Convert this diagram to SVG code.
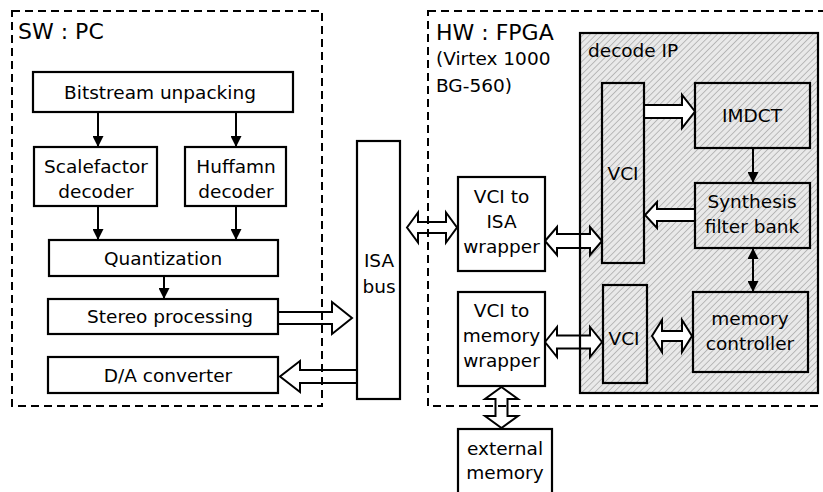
<svg xmlns="http://www.w3.org/2000/svg" width="823" height="492" viewBox="0 0 823 492">
  <defs>
    <pattern id="hatch" patternUnits="userSpaceOnUse" width="4.5" height="4.5" patternTransform="rotate(45)">
      <rect width="4.5" height="4.5" fill="#e9e9e9"/>
      <line x1="0" y1="0" x2="0" y2="4.5" stroke="#8a8a8a" stroke-width="1"/>
    </pattern>
    <marker id="tri" viewBox="0 0 10 10" refX="10" refY="5" markerWidth="5.5" markerHeight="5.5" orient="auto-start-reverse" markerUnits="strokeWidth">
      <path d="M0,0 L10,5 L0,10 Z" fill="#000"/>
    </marker>
    <style>
      text { font-family: "DejaVu Sans", Verdana, sans-serif; font-size: 18.5px; fill: #000; }
      .c { text-anchor: middle; }
      .title { font-size: 22px; }
      .box { fill: #fff; stroke: #000; stroke-width: 2.2; }
      .clear { fill: none; stroke: #000; stroke-width: 2.2; }
      .dash { fill: none; stroke: #000; stroke-width: 2; stroke-dasharray: 8 5; }
      .thin { stroke: #000; stroke-width: 2; fill: none; marker-end: url(#tri); }
      .both { marker-start: url(#tri); }
      .hollow { fill: #fff; stroke: #000; stroke-width: 2; stroke-linejoin: miter; }
    </style>
  </defs>

  <rect width="823" height="492" fill="#fff"/>

  <!-- software side -->
  <g id="sw-region">
    <rect class="dash" x="12" y="11" width="310" height="395"/>
    <text class="title" x="18" y="39">SW : PC</text>
  </g>

  <!-- hardware side -->
  <g id="hw-region">
    <rect class="dash" x="428" y="11" width="420" height="395"/>
    <text class="title" x="436" y="40">HW : FPGA</text>
    <text x="436" y="65">(Virtex 1000</text>
    <text x="436" y="92">BG-560)</text>
  </g>

  <g id="decode-ip">
    <rect x="580" y="33" width="238" height="360" fill="url(#hatch)" stroke="#000" stroke-width="2"/>
    <text x="588" y="57">decode IP</text>
  </g>

  <!-- connectors -->
  <g id="connectors">
    <line class="thin" x1="98" y1="112" x2="98" y2="147"/>
    <line class="thin" x1="236" y1="112" x2="236" y2="147"/>
    <line class="thin" x1="98" y1="206" x2="98" y2="240"/>
    <line class="thin" x1="236" y1="206" x2="236" y2="240"/>
    <line class="thin" x1="164" y1="276" x2="164" y2="299"/>
    <line class="thin" x1="753" y1="148" x2="753" y2="183"/>
    <line class="thin both" x1="753" y1="248" x2="753" y2="292"/>

    <!-- Stereo processing to ISA bus -->
    <polygon class="hollow" points="278,312 332,312 332,302 352,318 332,334 332,324 278,324"/>
    <!-- ISA bus to D/A converter -->
    <polygon class="hollow" points="357,370 300,370 300,361 280,376.5 300,392 300,383 357,383"/>
    <!-- ISA bus <-> VCI to ISA wrapper -->
    <polygon class="hollow" points="407,227.5 418,212.5 418,222 446,222 446,212.5 457,227.5 446,242.5 446,233 418,233 418,242.5"/>
    <!-- VCI to ISA wrapper <-> VCI -->
    <polygon class="hollow" points="545,241 557,227 557,234 590,234 590,227 602,241 590,255 590,248 557,248 557,255"/>
    <!-- VCI to memory wrapper <-> VCI -->
    <polygon class="hollow" points="545,342 557,327 557,335.5 590,335.5 590,327 602,342 590,357 590,348.5 557,348.5 557,357"/>
    <!-- VCI <-> memory controller -->
    <polygon class="hollow" points="652,336 662,320 662,331 682,331 682,320 692,336 682,352 682,341 662,341 662,352"/>
    <!-- VCI to memory wrapper <-> external memory -->
    <polygon class="hollow" points="501.5,387 518,399 507.5,399 507.5,416 518,416 501.5,428 485,416 495.5,416 495.5,399 485,399"/>
    <!-- VCI to IMDCT -->
    <polygon class="hollow" points="644,105 682,105 682,95 695,111.5 682,128 682,118 644,118"/>
    <!-- Synthesis filter bank to VCI -->
    <polygon class="hollow" points="695,209 657,209 657,202 645,215 657,228 657,221 695,221"/>
  </g>

  <!-- region borders drawn over the connector bodies -->
  <g id="borders">
    <rect class="dash" x="12" y="11" width="310" height="395"/>
    <rect class="dash" x="428" y="11" width="420" height="395"/>
    <rect class="clear" x="580" y="33" width="238" height="360"/>
  </g>

  <g id="bitstream">
    <rect class="box" x="33" y="72" width="260" height="40"/>
    <text class="c" x="160" y="99">Bitstream unpacking</text>
  </g>
  <g id="scalefactor">
    <rect class="box" x="34" y="147" width="123" height="59"/>
    <text class="c" x="96" y="173">Scalefactor</text>
    <text class="c" x="96" y="198">decoder</text>
  </g>
  <g id="huffamn">
    <rect class="box" x="185" y="147" width="101" height="59"/>
    <text class="c" x="236" y="173">Huffamn</text>
    <text class="c" x="236" y="198">decoder</text>
  </g>
  <g id="quantization">
    <rect class="box" x="49" y="240" width="229" height="36"/>
    <text class="c" x="163" y="265">Quantization</text>
  </g>
  <g id="stereo">
    <rect class="box" x="48" y="299" width="230" height="35"/>
    <text class="c" x="170" y="323">Stereo processing</text>
  </g>
  <g id="da">
    <rect class="box" x="48" y="357" width="230" height="36"/>
    <text class="c" x="168" y="382">D/A converter</text>
  </g>
  <g id="isa-bus">
    <rect class="box" x="357" y="141" width="43" height="258"/>
    <text class="c" x="379" y="267">ISA</text>
    <text class="c" x="379" y="293">bus</text>
  </g>
  <g id="vci-isa-wrapper">
    <rect class="box" x="458" y="177" width="87" height="94"/>
    <text class="c" x="501.5" y="203">VCI to</text>
    <text class="c" x="501.5" y="228">ISA</text>
    <text class="c" x="501.5" y="253">wrapper</text>
  </g>
  <g id="vci-mem-wrapper">
    <rect class="box" x="458" y="292" width="87" height="94"/>
    <text class="c" x="501.5" y="317">VCI to</text>
    <text class="c" x="501.5" y="342">memory</text>
    <text class="c" x="501.5" y="367">wrapper</text>
  </g>
  <g id="external-memory">
    <rect class="box" x="458" y="429" width="94" height="70"/>
    <text class="c" x="505" y="455">external</text>
    <text class="c" x="505" y="479">memory</text>
  </g>
  <g id="vci-main">
    <rect class="clear" x="602" y="83" width="42" height="180"/>
    <text class="c" x="623" y="180">VCI</text>
  </g>
  <g id="vci-mem">
    <rect class="clear" x="603" y="285" width="44" height="98"/>
    <text class="c" x="624" y="345">VCI</text>
  </g>
  <g id="imdct">
    <rect class="clear" x="695" y="83" width="115" height="65"/>
    <text class="c" x="752" y="122">IMDCT</text>
  </g>
  <g id="synthesis">
    <rect class="clear" x="695" y="183" width="115" height="65"/>
    <text class="c" x="752" y="208">Synthesis</text>
    <text class="c" x="752" y="233">filter bank</text>
  </g>
  <g id="memory-controller">
    <rect class="clear" x="693" y="292" width="115" height="80"/>
    <text class="c" x="750" y="325">memory</text>
    <text class="c" x="750" y="350">controller</text>
  </g>
</svg>
